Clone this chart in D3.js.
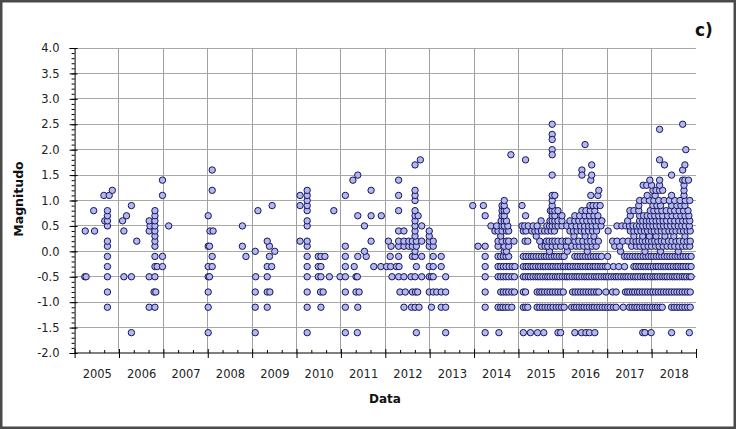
<!DOCTYPE html>
<html><head><meta charset="utf-8">
<script src="https://cdn.jsdelivr.net/npm/d3@7"></script>
<style>body{margin:0;background:#fff}svg{display:block}</style>
</head><body>
<svg id="c" width="736" height="429"></svg>
<script>
// ---------- DATA (decimal year of each event, grouped by magnitude row) ----------
const yearLabels = ["2005","2006","2007","2008","2009","2010","2011","2012","2013","2014","2015","2016","2017","2018"];
const yTickLabels = ["-2.0","-1.5","-1.0","-0.5","0.0","0.5","1.0","1.5","2.0","2.5","3.0","3.5","4.0"];

const rowM16 = [2006.28,2008.01,2009.07,2010.24,2011.10,2011.37,2012.70,2013.36,2014.25,2014.56,2015.11,2015.27,2015.43,2015.57,2015.89,2015.95,2016.27,2016.42,2016.52,2016.60,2016.72,2017.80,2017.85,2017.99,2018.45,2018.85];
const rowM11 = [2005.74,2006.68,2006.81,2008.01,2009.07,2009.34,2010.24,2010.55,2011.10,2011.38,2012.42,2012.59,2012.67,2012.76,2013.04,2013.26,2013.36,2014.25,2014.54,2014.60,2014.65,2014.71,2014.77,2014.85,2015.11,2015.16,2015.21,2015.42,2015.48,2015.54,2015.60,2015.66,2015.72,2015.78,2015.85,2015.91,2015.97,2016.03,2016.20,2016.26,2016.31,2016.37,2016.43,2016.48,2016.54,2016.60,2016.66,2016.71,2016.77,2016.83,2016.89,2016.95,2017.01,2017.07,2017.14,2017.20,2017.36,2017.50,2017.56,2017.62,2017.67,2017.73,2017.79,2017.85,2017.90,2017.96,2018.02,2018.08,2018.13,2018.19,2018.24,2018.45,2018.51,2018.57,2018.63,2018.69,2018.75,2018.81,2018.87];
const rowM08 = [2005.74,2006.79,2006.83,2008.01,2009.07,2009.34,2009.40,2010.24,2010.54,2010.60,2011.10,2011.34,2011.41,2012.33,2012.45,2012.61,2012.68,2012.73,2012.99,2013.08,2013.16,2013.26,2013.36,2014.25,2014.60,2014.66,2014.72,2014.78,2014.85,2014.91,2015.11,2015.16,2015.42,2015.48,2015.53,2015.59,2015.65,2015.71,2015.77,2015.83,2015.89,2015.95,2016.01,2016.22,2016.28,2016.34,2016.40,2016.46,2016.52,2016.58,2016.64,2016.70,2016.76,2016.81,2016.97,2017.12,2017.20,2017.41,2017.46,2017.51,2017.57,2017.62,2017.68,2017.73,2017.79,2017.85,2017.91,2017.97,2018.03,2018.09,2018.15,2018.21,2018.27,2018.33,2018.39,2018.45,2018.51,2018.57,2018.63,2018.69,2018.75,2018.81,2018.87];
const rowM05 = [2005.23,2005.26,2005.74,2006.11,2006.28,2006.68,2006.81,2008.01,2008.04,2009.08,2009.34,2010.24,2010.49,2010.55,2010.74,2010.98,2011.10,2011.34,2011.37,2012.15,2012.30,2012.42,2012.58,2012.67,2012.82,2012.99,2013.04,2013.08,2013.36,2014.25,2014.54,2014.60,2014.66,2014.72,2014.78,2014.85,2014.91,2015.11,2015.16,2015.22,2015.27,2015.33,2015.39,2015.44,2015.49,2015.55,2015.61,2015.66,2015.71,2015.77,2015.83,2015.88,2015.93,2015.99,2016.05,2016.10,2016.15,2016.21,2016.27,2016.32,2016.37,2016.43,2016.49,2016.54,2016.59,2016.65,2016.71,2016.76,2016.81,2016.87,2016.93,2016.98,2017.03,2017.09,2017.15,2017.20,2017.25,2017.31,2017.37,2017.42,2017.47,2017.53,2017.59,2017.64,2017.69,2017.75,2017.81,2017.86,2017.91,2017.97,2018.03,2018.08,2018.13,2018.19,2018.25,2018.30,2018.35,2018.41,2018.47,2018.52,2018.57,2018.63,2018.69,2018.74,2018.79,2018.85,2018.89];
const rowM03 = [2005.74,2006.81,2006.86,2006.98,2008.01,2008.10,2009.34,2009.44,2010.24,2010.49,2010.55,2011.10,2011.30,2011.74,2011.90,2012.03,2012.12,2012.25,2012.31,2012.70,2012.99,2013.08,2013.26,2014.25,2014.54,2014.60,2014.66,2014.72,2014.79,2014.86,2014.92,2015.11,2015.17,2015.22,2015.28,2015.33,2015.39,2015.45,2015.50,2015.56,2015.61,2015.67,2015.73,2015.78,2015.84,2015.89,2015.95,2016.01,2016.06,2016.12,2016.17,2016.23,2016.29,2016.34,2016.40,2016.45,2016.51,2016.57,2016.62,2016.68,2016.73,2016.79,2016.85,2016.90,2016.96,2017.01,2017.14,2017.26,2017.39,2017.60,2017.65,2017.71,2017.76,2017.82,2017.87,2017.93,2017.98,2018.04,2018.10,2018.15,2018.21,2018.27,2018.32,2018.38,2018.43,2018.49,2018.55,2018.60,2018.66,2018.71,2018.77,2018.83,2018.89];
const rowM01 = [2005.74,2006.81,2006.98,2008.10,2008.86,2009.39,2010.24,2010.49,2010.55,2010.64,2011.10,2011.38,2011.57,2012.11,2012.30,2012.61,2012.67,2012.82,2013.08,2013.26,2014.25,2014.54,2014.60,2014.66,2014.72,2014.78,2015.11,2015.17,2015.23,2015.29,2015.34,2015.40,2015.46,2015.52,2015.58,2015.63,2015.69,2015.75,2015.81,2015.86,2015.92,2015.98,2016.03,2016.27,2016.33,2016.39,2016.45,2016.51,2016.57,2016.63,2016.69,2016.75,2016.81,2016.87,2017.01,2017.39,2017.45,2017.51,2017.57,2017.63,2017.69,2017.75,2017.81,2017.87,2017.93,2017.99,2018.05,2018.11,2018.17,2018.23,2018.29,2018.35,2018.41,2018.47,2018.53,2018.59,2018.65,2018.71,2018.77,2018.83,2018.89];
const rowP00 = [2009.07,2009.51,2011.53,2012.67,2014.68,2014.73,2015.70,2016.10,2016.55,2017.30,2017.85,2018.20,2018.60];
const rowP01 = [2005.74,2006.81,2008.01,2008.04,2008.78,2009.39,2010.24,2011.10,2012.13,2012.30,2012.42,2012.53,2012.61,2012.70,2012.99,2013.08,2014.09,2014.25,2014.54,2014.68,2014.78,2015.52,2015.60,2015.66,2015.76,2015.85,2015.95,2016.08,2016.20,2016.30,2016.38,2016.47,2016.56,2016.66,2016.75,2017.17,2017.28,2017.55,2017.66,2017.74,2017.83,2017.92,2018.00,2018.09,2018.17,2018.26,2018.35,2018.44,2018.52,2018.61,2018.70,2018.78,2018.86];
const rowP02 = [2005.74,2006.40,2006.81,2009.34,2010.08,2010.24,2011.68,2012.07,2012.30,2012.42,2012.53,2012.61,2012.70,2012.82,2012.99,2013.08,2014.54,2014.63,2014.73,2014.78,2014.90,2015.15,2015.21,2015.48,2015.63,2015.69,2015.76,2015.82,2015.89,2015.98,2016.07,2016.12,2016.27,2016.36,2016.45,2016.55,2016.63,2016.72,2016.80,2017.12,2017.22,2017.35,2017.47,2017.58,2017.65,2017.72,2017.79,2017.86,2017.93,2018.00,2018.07,2018.14,2018.22,2018.29,2018.38,2018.46,2018.55,2018.63,2018.72,2018.80,2018.87];
const rowP03 = [2006.81,2012.67,2012.99,2014.60,2015.40,2016.25,2016.50,2016.70,2017.60,2017.80,2017.95,2018.10,2018.30,2018.50,2018.75];
const rowP04 = [2005.24,2005.45,2006.11,2006.68,2006.81,2008.05,2008.12,2012.30,2012.42,2012.67,2012.99,2014.47,2014.54,2014.63,2014.73,2014.78,2015.11,2015.17,2015.30,2015.37,2015.44,2015.52,2015.59,2015.66,2015.74,2015.81,2016.16,2016.24,2016.32,2016.41,2016.49,2016.58,2016.67,2016.76,2017.02,2017.52,2017.60,2017.68,2017.76,2017.84,2017.91,2017.99,2018.06,2018.14,2018.22,2018.30,2018.39,2018.47,2018.55,2018.64,2018.72,2018.80,2018.87];
const rowP05 = [2005.74,2006.70,2006.81,2007.12,2008.78,2010.24,2011.53,2012.67,2012.82,2014.38,2014.51,2014.63,2014.68,2014.76,2015.08,2015.14,2015.22,2015.33,2015.42,2015.64,2015.70,2015.76,2015.83,2015.89,2015.98,2016.09,2016.20,2016.30,2016.40,2016.49,2016.58,2016.66,2016.75,2016.86,2017.22,2017.33,2017.42,2017.50,2017.58,2017.66,2017.73,2017.80,2017.88,2017.95,2018.03,2018.11,2018.19,2018.27,2018.35,2018.43,2018.52,2018.60,2018.68,2018.76,2018.85];
const rowP06 = [2005.68,2005.74,2006.08,2006.68,2006.81,2010.24,2012.67,2014.61,2014.68,2014.73,2015.51,2015.71,2015.76,2015.82,2015.89,2015.98,2016.16,2016.27,2016.36,2016.45,2016.54,2016.63,2016.72,2016.80,2016.88,2017.46,2017.73,2017.80,2017.88,2017.95,2018.02,2018.10,2018.18,2018.26,2018.34,2018.43,2018.52,2018.61,2018.70,2018.78,2018.86];
const rowP07 = [2005.74,2006.17,2006.81,2008.01,2011.38,2011.68,2011.91,2012.67,2012.74,2014.25,2014.63,2014.68,2015.16,2015.76,2015.82,2015.98,2016.27,2016.38,2016.50,2016.60,2016.70,2016.79,2017.52,2017.73,2017.82,2017.90,2017.98,2018.07,2018.16,2018.25,2018.36,2018.46,2018.56,2018.66,2018.75,2018.84];
const rowP08 = [2005.43,2005.74,2006.81,2009.13,2010.24,2010.84,2012.30,2012.67,2014.63,2014.68,2014.73,2015.72,2015.76,2015.82,2015.89,2016.43,2016.52,2016.62,2016.72,2017.51,2017.60,2017.71,2017.97,2018.05,2018.14,2018.23,2018.33,2018.43,2018.52,2018.62,2018.72,2018.82];
const rowP09 = [2006.28,2009.45,2010.08,2010.24,2013.97,2014.21,2014.63,2014.68,2015.08,2015.76,2016.61,2016.68,2016.76,2016.84,2017.71,2018.03,2018.12,2018.20,2018.45,2018.57,2018.66,2018.75];
const rowP10 = [2010.24,2012.67,2014.68,2015.76,2017.73,2017.84,2017.95,2018.05,2018.16,2018.28,2018.40,2018.52,2018.64,2018.76,2018.86];
const rowP11 = [2005.66,2005.78,2006.98,2010.08,2010.24,2011.10,2012.30,2012.67,2015.76,2015.82,2016.63,2016.79,2017.90,2018.08,2018.45,2018.73];
const rowP12 = [2005.85,2008.10,2010.24,2011.68,2012.67,2016.81,2018.03,2018.10,2018.18,2018.25,2018.73];
const rowP13 = [2017.81,2017.89,2018.00,2018.18,2018.73];
const rowP14 = [2006.98,2011.27,2012.30,2016.63,2017.96,2018.18,2018.70,2018.75,2018.83];
// isolated large events: [decimal year, magnitude]
const highEvents = [[2011.38,1.5],[2008.10,1.6],[2012.67,1.7],[2012.79,1.8],[2014.83,1.9],[2015.16,1.8],[2015.76,2.5],[2015.76,2.3],[2015.76,2.2],[2015.76,2.0],[2015.76,1.9],[2015.76,1.5],[2016.43,1.6],[2016.43,1.5],[2016.50,2.1],[2016.65,1.7],[2016.65,1.5],[2018.18,2.4],[2018.70,2.5],[2018.77,2.0],[2018.18,1.8],[2018.29,1.7],[2018.45,1.5],[2018.70,1.6],[2018.75,1.7]];

const rowTable = [[-1.6,rowM16],[-1.1,rowM11],[-0.8,rowM08],[-0.5,rowM05],[-0.3,rowM03],[-0.1,rowM01],
  [0.0,rowP00],[0.1,rowP01],[0.2,rowP02],[0.3,rowP03],[0.4,rowP04],[0.5,rowP05],[0.6,rowP06],[0.7,rowP07],
  [0.8,rowP08],[0.9,rowP09],[1.0,rowP10],[1.1,rowP11],[1.2,rowP12],[1.3,rowP13],[1.4,rowP14]];
const points = [];
rowTable.forEach(([m, yrs]) => yrs.forEach(t => points.push({t, m})));
highEvents.forEach(([t, m]) => points.push({t, m}));

// ---------- CHART ----------
const svg = d3.select("#c");
const x = d3.scaleLinear().domain([2005, 2019]).range([74.6, 696]);
const y = d3.scaleLinear().domain([-2, 4]).range([353, 48]);
const font = "'DejaVu Sans', Verdana, sans-serif";

svg.append("rect").attr("x",1.25).attr("y",1.25).attr("width",733.5).attr("height",426.5)
  .attr("fill","#fff").attr("stroke","#4a4a4a").attr("stroke-width",2.5);

const yVals = yTickLabels.map(Number);
const yearVals = yearLabels.map(Number);

// grid
const g = svg.append("g");
g.selectAll("line.h").data(yVals.filter(v => v > -2)).join("line")
  .attr("x1", x(2005)).attr("x2", x(2019)).attr("y1", d => y(d)).attr("y2", d => y(d))
  .attr("stroke","#a8a8a8").attr("stroke-width",1).attr("shape-rendering","crispEdges");
g.selectAll("line.v").data(yearVals.slice(1)).join("line")
  .attr("x1", d => x(d)).attr("x2", d => x(d)).attr("y1", y(-2)).attr("y2", y(4))
  .attr("stroke","#a0a0a0").attr("stroke-width",1).attr("shape-rendering","crispEdges");

// y axis
const yMinor = d3.range(-20, 41).map(i => i / 10);
const yMinorAxis = svg.append("g").attr("transform", `translate(${x(2005)},0)`)
  .call(d3.axisLeft(y).tickValues(yMinor).tickSize(3).tickFormat(""));
const yAxis = svg.append("g").attr("transform", `translate(${x(2005)},0)`)
  .call(d3.axisLeft(y).tickValues(yVals).tickSize(5).tickPadding(10).tickFormat((d, i) => yTickLabels[i]));
yAxis.selectAll(".tick line").attr("x2", 3).attr("x1", -5);
[yMinorAxis, yAxis].forEach(a => { a.select(".domain").attr("stroke","#000"); a.selectAll("line").attr("stroke","#000"); });
yMinorAxis.select(".domain").remove();
yAxis.selectAll("text").attr("font-family", font).attr("font-size", "11.5px").attr("fill", "#222");

// x axis
const xMinor = [];
yearVals.concat([2019]).forEach(v => { xMinor.push(v + 1/3, v + 2/3); });
const xMinorAxis = svg.append("g").attr("transform", `translate(0,${y(-2)})`)
  .call(d3.axisBottom(x).tickValues(xMinor.filter(v => v < 2019)).tickSize(-3).tickFormat(""));
xMinorAxis.select(".domain").remove();
const xAxis = svg.append("g").attr("transform", `translate(0,${y(-2)})`)
  .call(d3.axisBottom(x).tickValues(yearVals.concat([2019])).tickSize(5).tickFormat(""));
xAxis.selectAll(".tick line").attr("y1", -4).attr("y2", 5);
xAxis.select(".domain").attr("d", `M${x(2005)},0H${x(2019)}`);
const xLab = svg.append("g").attr("transform", `translate(0,${y(-2)})`)
  .call(d3.axisBottom(x).tickValues(yearVals.map(v => v + 0.5)).tickSize(0).tickPadding(17)
    .tickFormat((d, i) => yearLabels[i]));
xLab.select(".domain").remove();
xLab.selectAll("text").attr("font-family", font).attr("font-size", "11.5px").attr("fill", "#222");
[xMinorAxis, xAxis].forEach(a => a.selectAll("line,path").attr("stroke","#000"));

// points
svg.append("g").selectAll("circle").data(points).join("circle")
  .attr("cx", d => x(d.t)).attr("cy", d => y(d.m)).attr("r", 3.2)
  .attr("fill", "#b4b8ee").attr("stroke", "#15155c").attr("stroke-width", 1);

// titles
svg.append("text").attr("transform", `translate(23,${199}) rotate(-90)`)
  .attr("text-anchor","middle").attr("font-family", font).attr("font-weight","bold")
  .attr("font-size","12.5px").attr("fill","#111").text("Magnitudo");
svg.append("text").attr("x", 385).attr("y", 403).attr("text-anchor","middle")
  .attr("font-family", font).attr("font-weight","bold").attr("font-size","12px").attr("fill","#111").text("Data");
svg.append("text").attr("x", 695).attr("y", 36).attr("font-family", font).attr("font-weight","bold")
  .attr("font-size","17px").attr("fill","#111").text("c)");
</script>
</body></html>
